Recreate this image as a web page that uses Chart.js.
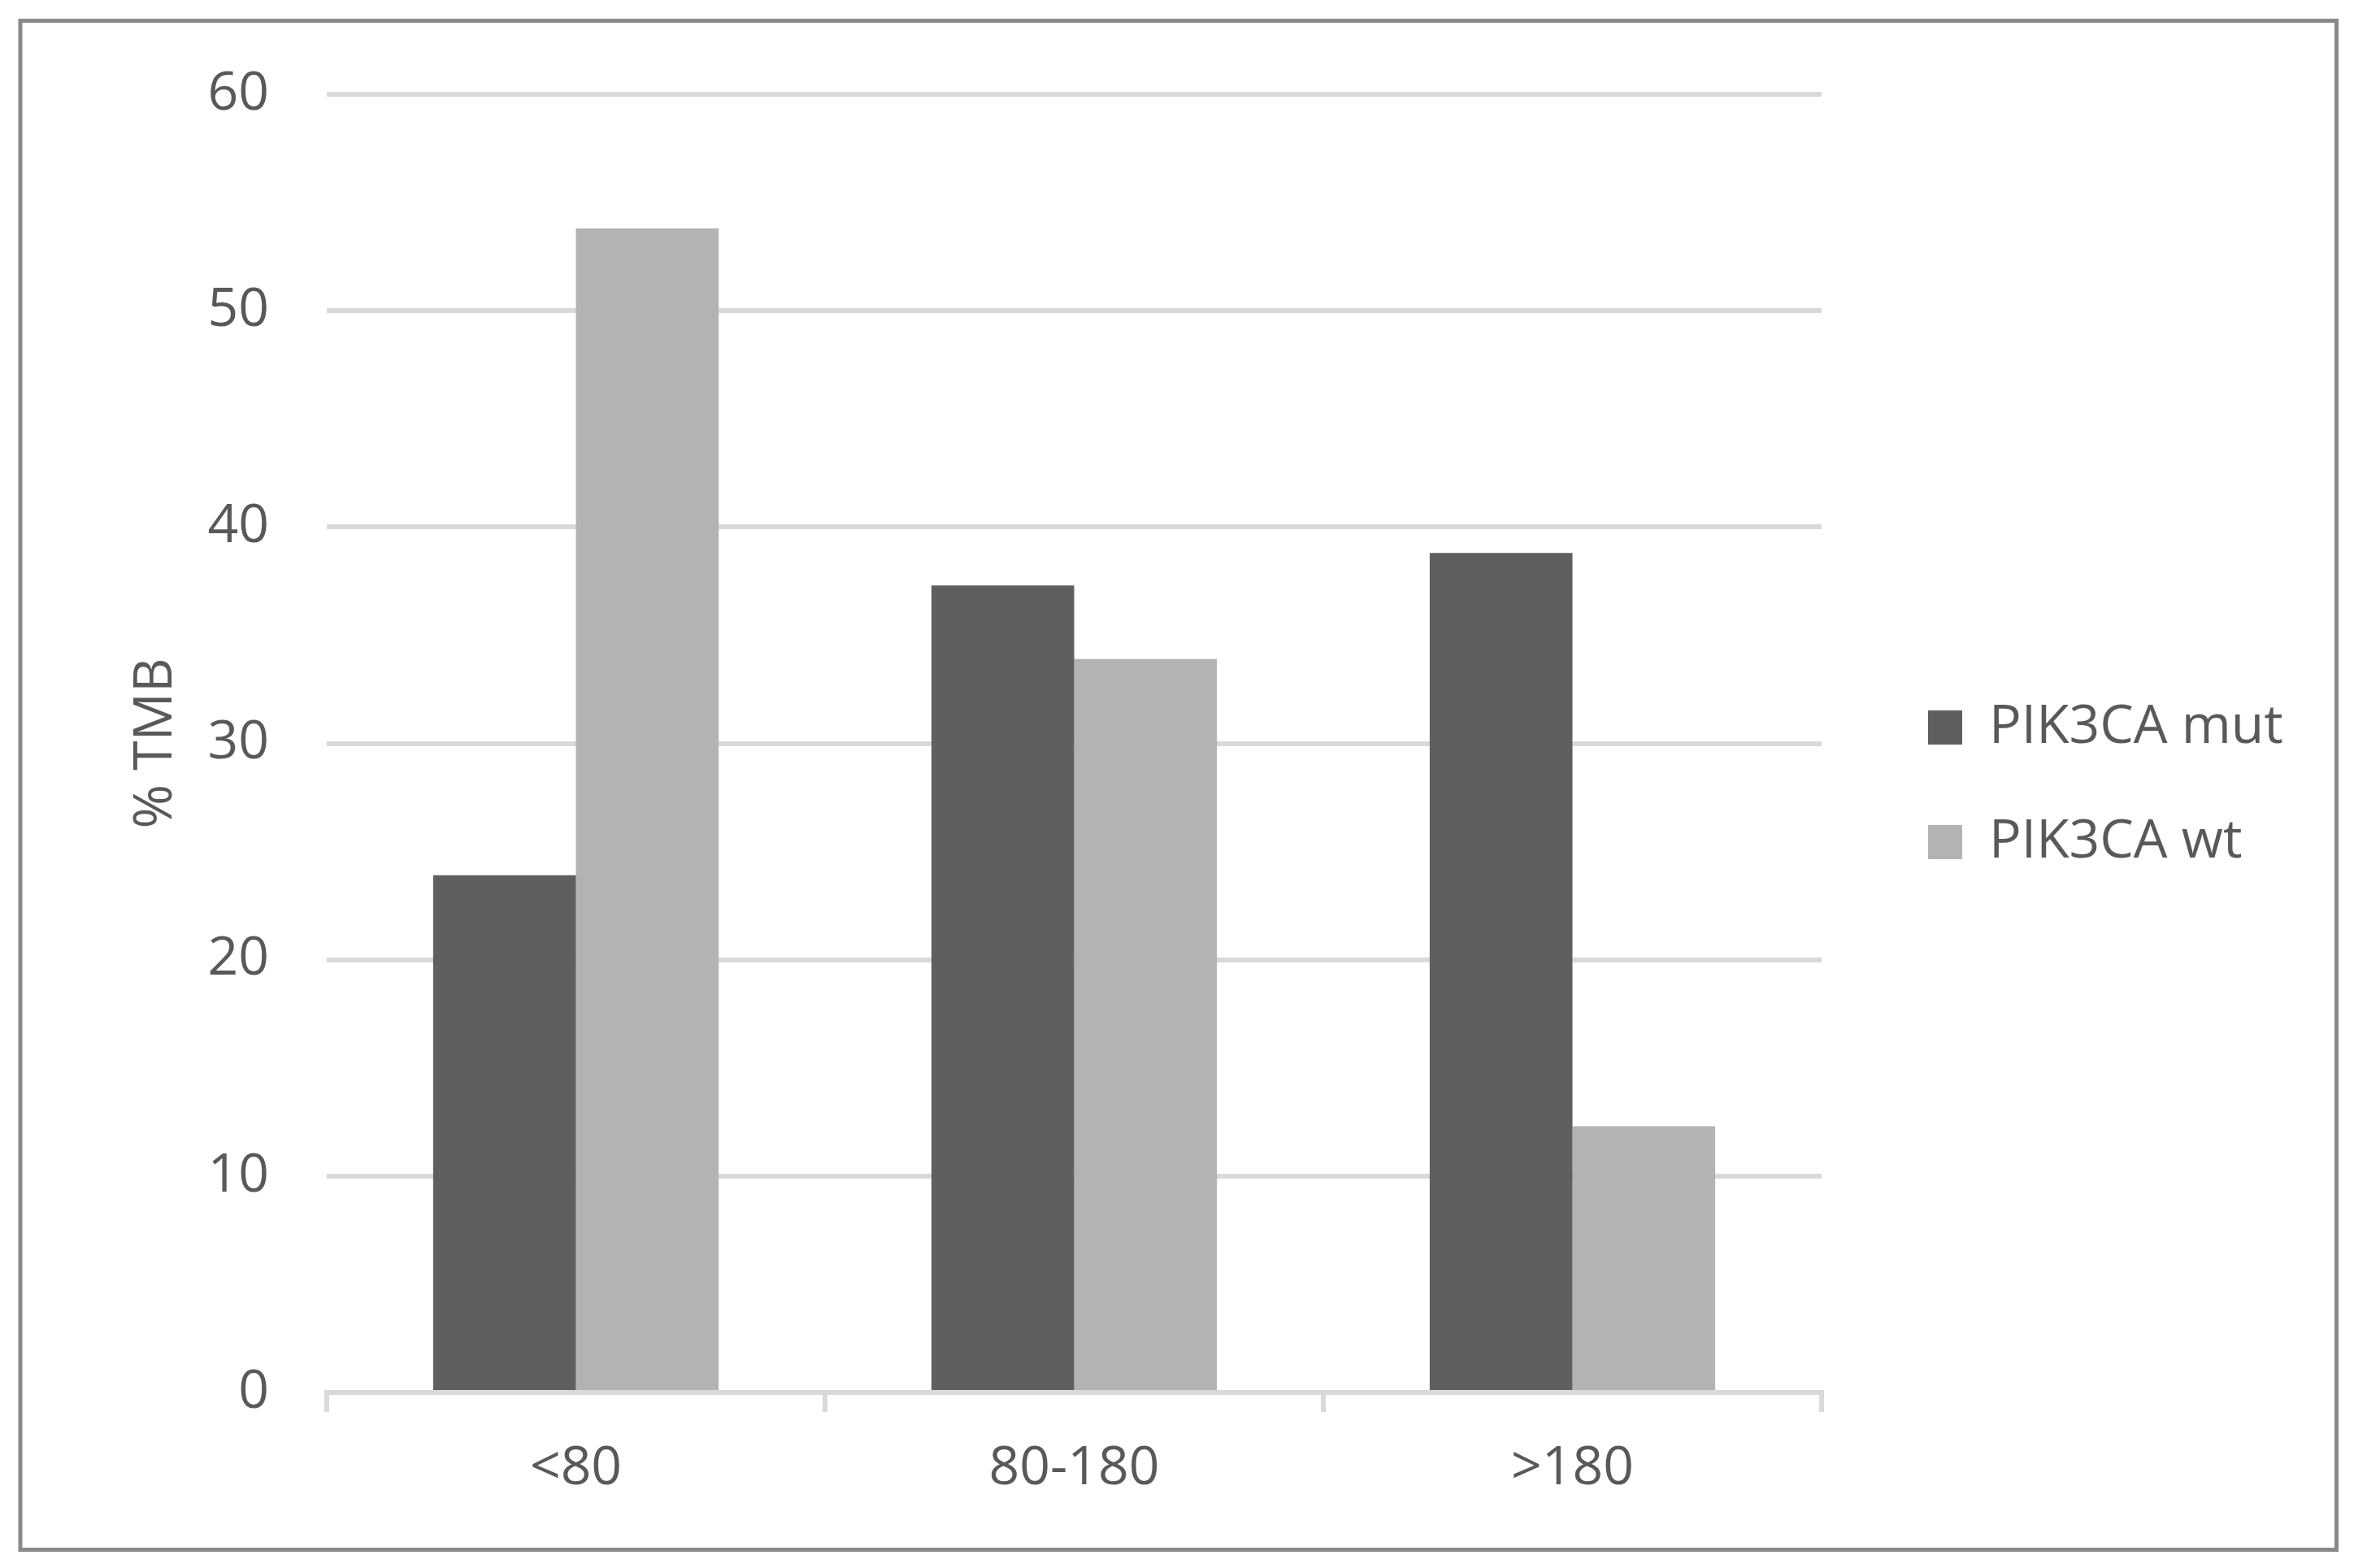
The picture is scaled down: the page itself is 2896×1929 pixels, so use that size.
<!DOCTYPE html>
<html>
<head>
<meta charset="utf-8">
<script src="https://cdn.jsdelivr.net/npm/chart.js@4.4.1/dist/chart.umd.min.js"></script>
<style>
    html, body { margin: 0; padding: 0; background: #ffffff; }
    canvas { display: block; }
</style>
</head>
<body>
<canvas id="tmbChart" width="2896" height="1929"></canvas>
<script>
// ============================
//  DADOS
// ============================

const categories = ['<80', '80-180', '>180'];
const mutLabel = 'PIK3CA mut';
const wtLabel = 'PIK3CA wt';
const mutValues = [23.9, 37.3, 38.8];
const wtValues = [53.8, 33.9, 12.3];
const yTitle = '% TMB';
const yMax = 60;
const yStep = 10;

// ============================
//  ESTILO
// ============================

const FONT = '"Open Sans", "Noto Sans", sans-serif';
const FONT_SIZE = 66;
const TEXT = '#595959';
const GRID = '#d9d9d9';
const LEG_PAD = 75;
const LEG_BOX = 42;
const LEGEND_WIDTH = 599;   // legenda começa em x = 2896 - 599

// moldura em volta do gráfico
const framePlugin = {
    id: 'frame',
    beforeDraw(chart) {
        const c = chart.ctx;
        c.save();
        c.fillStyle = '#ffffff';
        c.fillRect(0, 0, chart.width, chart.height);
        c.strokeStyle = '#898989';
        c.lineWidth = 5;
        c.strokeRect(25, 25.5, 2849.5, 1881);
        c.restore();
    }
};

// largura fixa da caixa da legenda
const legendWidthPlugin = {
    id: 'legendWidth',
    afterInit(chart) {
        const legend = chart.legend;
        if (!legend) return;
        const fit = legend.fit.bind(legend);
        legend.fit = function () {
            fit();
            this.width = LEGEND_WIDTH;
        };
    }
};

// ============================
//  GRÁFICO
// ============================

const ctx = document.getElementById('tmbChart').getContext('2d');

const tmbChart = new Chart(ctx, {
    type: 'bar',
    data: {
        labels: categories,
        datasets: [
            {
                label: mutLabel,
                data: mutValues,
                backgroundColor: '#5f5f5f',
                borderWidth: 0,
                categoryPercentage: 0.573,
                barPercentage: 1.0
            },
            {
                label: wtLabel,
                data: wtValues,
                backgroundColor: '#b3b3b3',
                borderWidth: 0,
                categoryPercentage: 0.573,
                barPercentage: 1.0
            }
        ]
    },
    options: {
        responsive: false,
        animation: false,
        devicePixelRatio: 1,
        layout: {
            padding: { top: 116, bottom: 20, left: 0, right: 0 }
        },
        plugins: {
            tooltip: { enabled: false },
            legend: {
                position: 'right',
                fullSize: false,
                // título vazio só para baixar os itens da legenda
                title: {
                    display: true,
                    text: '',
                    padding: 0,
                    font: { size: 85 }
                },
                labels: {
                    boxWidth: LEG_BOX,
                    boxHeight: LEG_BOX,
                    padding: LEG_PAD,
                    color: TEXT,
                    font: { family: FONT, size: FONT_SIZE }
                }
            }
        },
        scales: {
            x: {
                grid: {
                    display: true,
                    drawOnChartArea: false,
                    drawTicks: true,
                    tickLength: 24,
                    color: GRID,
                    lineWidth: 6
                },
                border: { display: true, color: GRID, width: 6 },
                ticks: {
                    color: TEXT,
                    padding: 31,
                    font: { family: FONT, size: FONT_SIZE }
                },
                afterFit(scale) { scale.height = 1929 - 20 - 1713; }
            },
            y: {
                min: 0,
                max: yMax,
                grid: { color: GRID, lineWidth: 6, drawTicks: false },
                border: { display: false },
                ticks: {
                    stepSize: yStep,
                    color: TEXT,
                    padding: 71,
                    font: { family: FONT, size: FONT_SIZE }
                },
                title: {
                    display: true,
                    text: yTitle,
                    color: TEXT,
                    padding: { top: 153, bottom: 0 },
                    font: { family: FONT, size: FONT_SIZE }
                },
                afterFit(scale) { scale.width = 402; }
            },
            // espaço vazio entre o gráfico e a legenda
            gap: {
                type: 'linear',
                position: 'right',
                display: true,
                grid: { display: false },
                border: { display: false },
                ticks: { display: false },
                afterFit(scale) { scale.width = 56; }
            }
        }
    },
    plugins: [framePlugin, legendWidthPlugin]
});
</script>
</body>
</html>
